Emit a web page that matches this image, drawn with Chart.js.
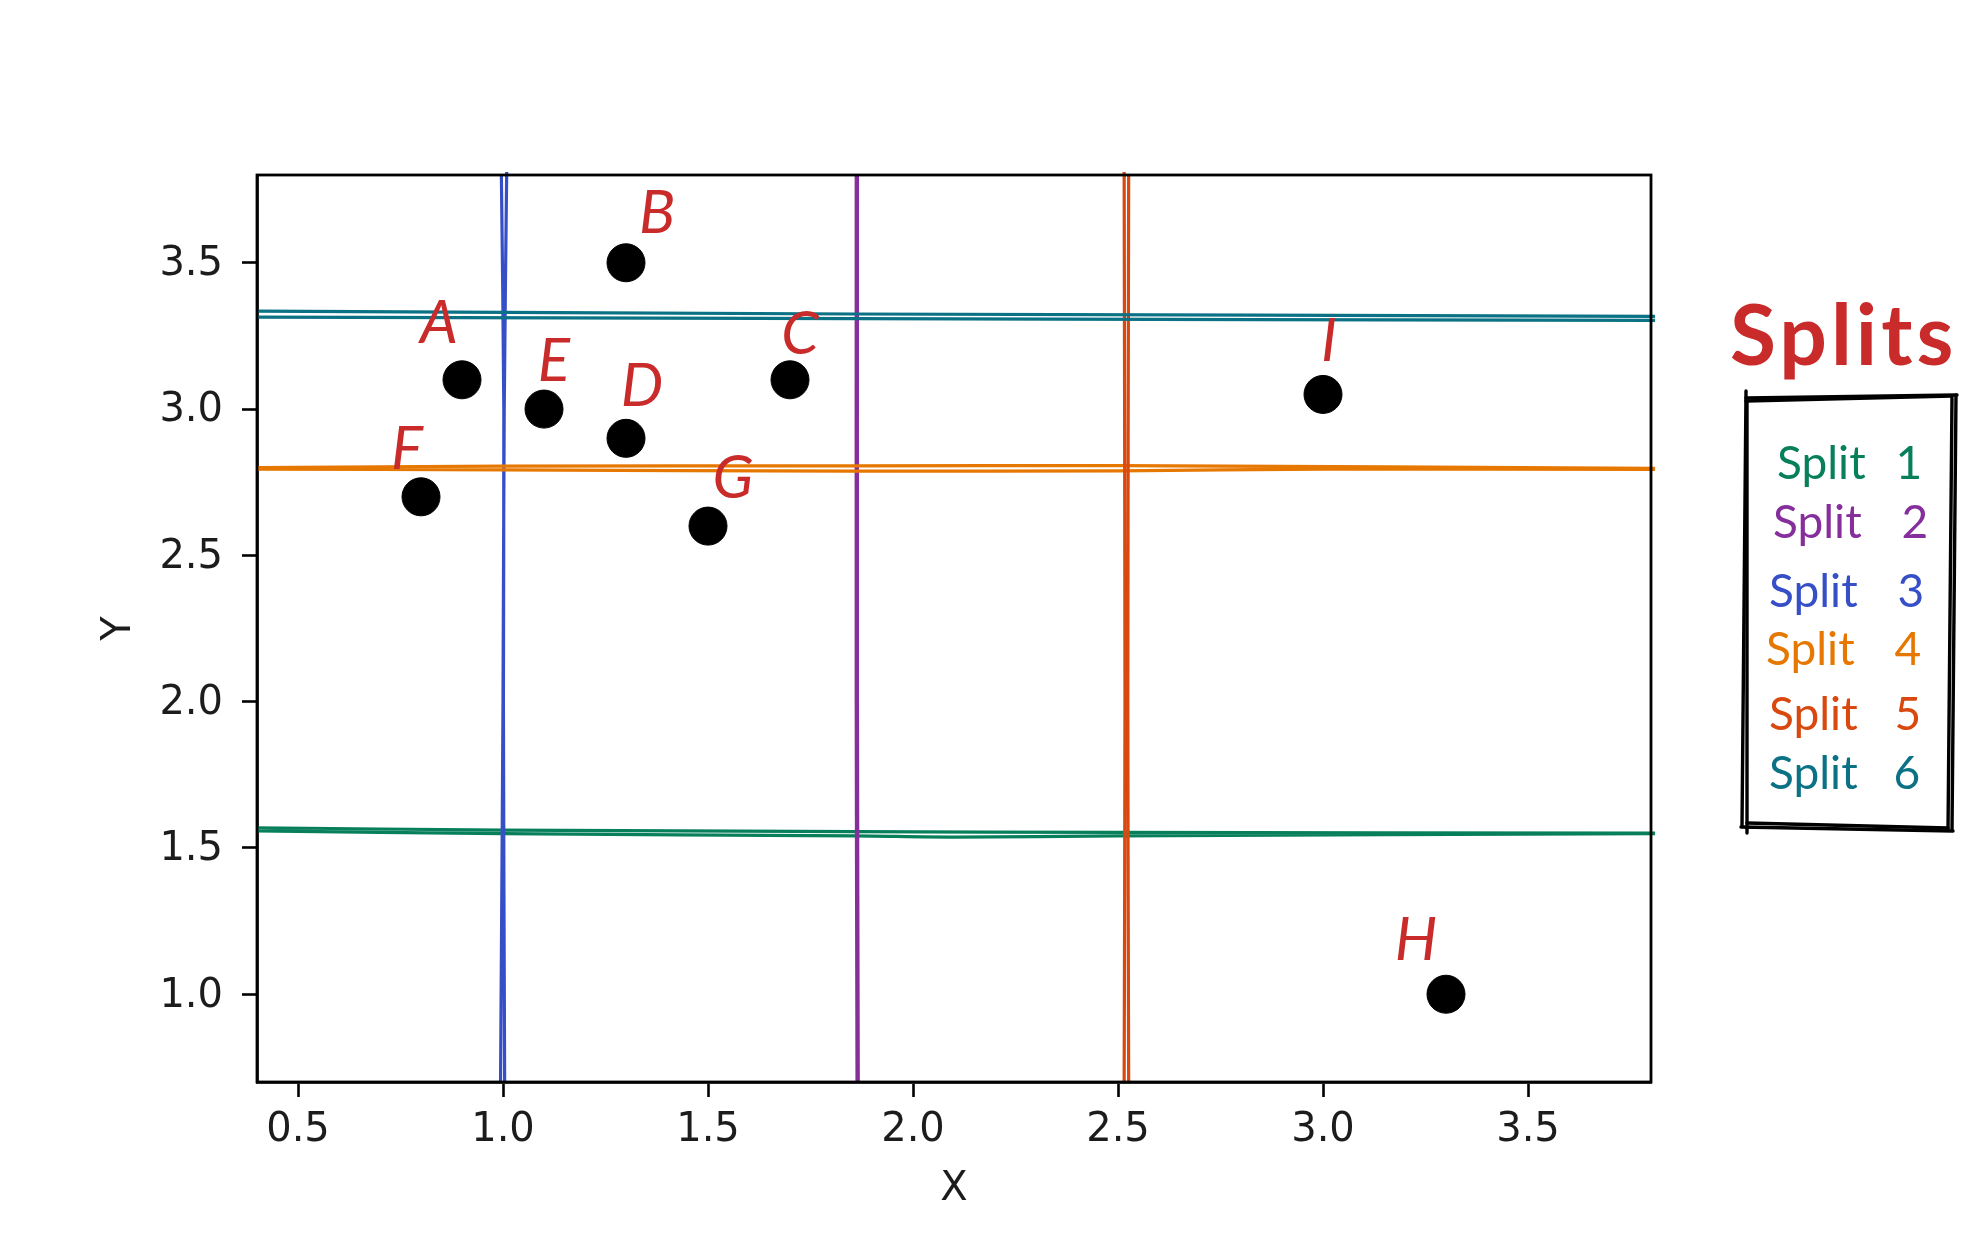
<!DOCTYPE html>
<html>
<head>
<meta charset="utf-8">
<title>Splits</title>
<script src="https://cdn.jsdelivr.net/npm/chart.js@4/dist/chart.umd.min.js"></script>
<style>
  html, body { margin: 0; padding: 0; background: #fff; }
  canvas { display: block; }
</style>
</head>
<body>
<canvas id="splitsChart" width="1986" height="1260"></canvas>
<script>
// data
const pointNames = ['A', 'B', 'C', 'D', 'E', 'F', 'G', 'H', 'I'];
const pointX = [0.9, 1.3, 1.7, 1.3, 1.1, 0.8, 1.5, 3.3, 3.0];
const pointY = [3.1, 3.5, 3.1, 2.9, 3.0, 2.7, 2.6, 1.0, 3.05];

const xTicks = [0.5, 1.0, 1.5, 2.0, 2.5, 3.0, 3.5];
const yTicks = [1.0, 1.5, 2.0, 2.5, 3.0, 3.5];

const splitNames = ['Split 1', 'Split 2', 'Split 3', 'Split 4', 'Split 5', 'Split 6'];

// every split was drawn by hand with two strokes, so each has two little paths
const split1A = [[0.4, 1.569], [1.0, 1.561], [1.86, 1.556], [2.5, 1.553], [3.81, 1.551]];
const split1B = [[0.4, 1.558], [1.0, 1.549], [1.86, 1.541], [2.1, 1.537], [2.5, 1.541], [3.81, 1.549]];
const split2A = [[1.862, 3.8], [1.862, 2.0], [1.864, 0.7]];
const split2B = [[1.864, 3.8], [1.864, 2.0], [1.866, 0.7]];
const split3A = [[1.009, 3.81], [1.003, 3.0], [1.0, 2.0], [0.994, 0.7]];
const split3B = [[0.996, 3.8], [1.002, 3.0], [1.001, 2.0], [1.004, 0.7]];
const split4A = [[0.4, 2.8], [1.0, 2.805], [1.86, 2.806], [2.5, 2.807], [3.81, 2.797]];
const split4B = [[0.4, 2.795], [1.0, 2.792], [1.86, 2.788], [2.5, 2.789], [3.0, 2.795], [3.81, 2.794]];
const split5A = [[2.515, 3.81], [2.517, 2.0], [2.515, 0.7]];
const split5B = [[2.526, 3.8], [2.524, 2.0], [2.526, 0.7]];
const split6A = [[0.4, 3.335], [1.86, 3.325], [3.81, 3.317]];
const split6B = [[0.4, 3.314], [1.86, 3.309], [3.81, 3.303]];

const splitStrokes = [
    [split1A, split1B], [split2A, split2B], [split3A, split3B],
    [split4A, split4B], [split5A, split5B], [split6A, split6B]
];

// styles
const splitColors = ['#087f5b', '#862e9c', '#364fc7', '#e67700', '#d9480f', '#0b7285'];
const splitWidths = [3.2, 3.6, 3.2, 3.2, 3.2, 3.2];
const noteRed = '#c92a2a';
const handFont = 'Lato';
const axisFont = { family: 'DejaVu Sans', size: 40 };
const axisColor = '#1c1c1c';

// where each letter sits relative to its dot, in pixels
const letterOffsets = [[-23, -56], [31, -49], [10, -45], [16, -52], [10, -47], [-14, -47], [25, -47], [-30, -54], [6, -53]];

// sketched legend box, pixels on the page
const boxStrokes = [
    [1746, 398, 1957, 395], [1746, 401, 1952, 396],
    [1956, 395, 1952, 830], [1952, 398, 1948, 830],
    [1741, 827, 1953, 831], [1747, 823, 1948, 828],
    [1746, 391, 1742, 826], [1747, 400, 1747, 833]
];
const legendRows = [
    { x: 1777, y: 479, gap: 18 }, { x: 1773, y: 538, gap: 28 }, { x: 1769, y: 607, gap: 28 },
    { x: 1766, y: 665, gap: 28 }, { x: 1769, y: 730, gap: 25 }, { x: 1769, y: 789, gap: 24 }
];

const toPoint = ([x, y]) => ({ x, y });

const sketchPlugin = {
    id: 'sketch',
    afterDatasetsDraw(chart) {
        const { ctx, chartArea, scales } = chart;
        ctx.save();

        // plot frame
        ctx.strokeStyle = '#000';
        ctx.lineWidth = 2.8;
        ctx.strokeRect(chartArea.left, chartArea.top, chartArea.width, chartArea.height);

        // point letters
        ctx.fillStyle = noteRed;
        ctx.textAlign = 'center';
        ctx.textBaseline = 'middle';
        ctx.font = 'italic 60px ' + handFont;
        pointNames.forEach((name, i) => {
            const px = scales.x.getPixelForValue(pointX[i]);
            const py = scales.y.getPixelForValue(pointY[i]);
            ctx.fillText(name, px + letterOffsets[i][0], py + letterOffsets[i][1]);
        });

        // legend title
        ctx.textAlign = 'left';
        ctx.textBaseline = 'alphabetic';
        ctx.font = 'bold 84px ' + handFont;
        ctx.letterSpacing = '4px';
        ctx.fillText('Splits', 1730, 365);
        ctx.letterSpacing = '0px';

        // legend box
        ctx.strokeStyle = '#000';
        ctx.lineWidth = 3.4;
        ctx.lineCap = 'round';
        boxStrokes.forEach(([x1, y1, x2, y2]) => {
            ctx.beginPath();
            ctx.moveTo(x1, y1);
            ctx.lineTo(x2, y2);
            ctx.stroke();
        });

        // legend rows
        ctx.font = '46px ' + handFont;
        splitNames.forEach((name, i) => {
            ctx.wordSpacing = legendRows[i].gap + 'px';
            ctx.fillStyle = splitColors[i];
            ctx.fillText(name, legendRows[i].x, legendRows[i].y);
        });
        ctx.restore();
    }
};

const datasets = [{
    label: 'Points',
    data: pointX.map((x, i) => ({ x, y: pointY[i] })),
    backgroundColor: '#000',
    borderColor: '#000',
    pointRadius: 19,
    showLine: false,
    order: 0
}];

splitStrokes.forEach(([a, b], i) => {
    datasets.push({
        label: splitNames[i],
        // the empty point breaks the path between the two strokes
        data: [...a.map(toPoint), { x: null, y: null }, ...b.map(toPoint)],
        borderColor: splitColors[i],
        borderWidth: splitWidths[i],
        pointRadius: 0,
        showLine: true,
        spanGaps: false,
        tension: 0.3,
        clip: false,
        order: splitNames.length - i
    });
});

new Chart(document.getElementById('splitsChart').getContext('2d'), {
    type: 'scatter',
    data: { datasets },
    plugins: [sketchPlugin],
    options: {
        responsive: false,
        animation: false,
        layout: { padding: { left: 0, top: 175, right: 335, bottom: 0 } },
        plugins: {
            legend: { display: false },
            tooltip: { enabled: false }
        },
        scales: {
            x: {
                type: 'linear',
                min: 0.4,
                max: 3.8,
                afterFit: (scale) => { scale.height = 178; },
                afterBuildTicks: (scale) => { scale.ticks = xTicks.map((value) => ({ value })); },
                grid: { drawOnChartArea: false, tickLength: 15, tickWidth: 2.6, tickColor: '#000' },
                border: { color: '#000', width: 2.8 },
                ticks: {
                    font: axisFont,
                    color: axisColor,
                    padding: 10,
                    maxRotation: 0,
                    autoSkip: false,
                    callback: (value) => value.toFixed(1)
                },
                title: { display: true, text: 'X', font: axisFont, color: axisColor, padding: { top: 0, bottom: 46 } }
            },
            y: {
                type: 'linear',
                min: 0.7,
                max: 3.8,
                afterFit: (scale) => { scale.width = 257; },
                afterBuildTicks: (scale) => { scale.ticks = yTicks.map((value) => ({ value })); },
                grid: { drawOnChartArea: false, tickLength: 15, tickWidth: 2.6, tickColor: '#000' },
                border: { color: '#000', width: 2.8 },
                ticks: {
                    font: axisFont,
                    color: axisColor,
                    padding: 19,
                    labelOffset: 2,
                    autoSkip: false,
                    callback: (value) => value.toFixed(1)
                },
                title: { display: true, text: 'Y', font: axisFont, color: axisColor, padding: { top: 96, bottom: 0 } }
            }
        }
    }
});
</script>
</body>
</html>
